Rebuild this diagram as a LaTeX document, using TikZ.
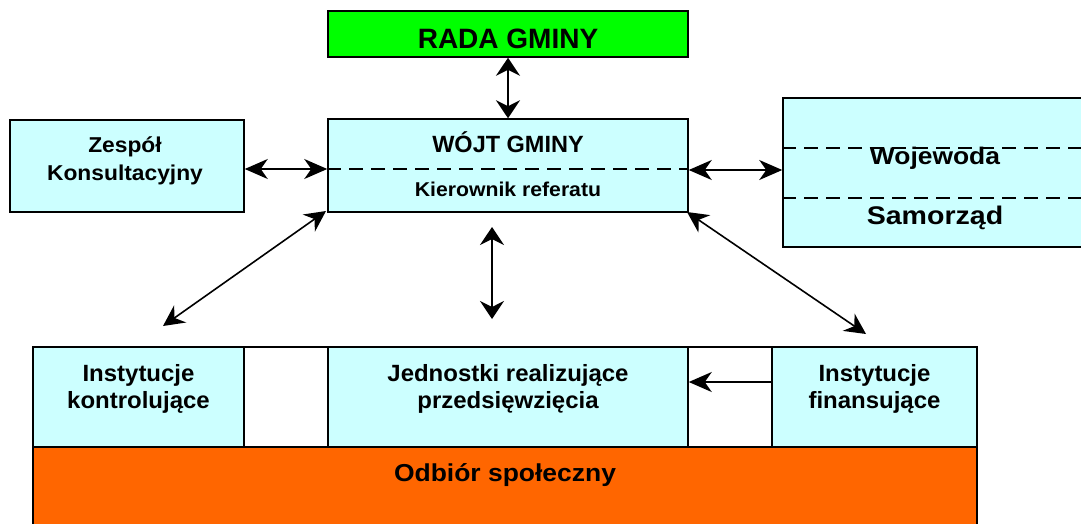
\documentclass[tikz,border=0pt]{standalone}
\usepackage{fontspec}
\setmainfont{Liberation Sans}
\usepackage{graphicx}
\usetikzlibrary{arrows.meta}

\definecolor{paleCyan}{HTML}{CCFFFF}
\definecolor{boardGreen}{HTML}{00FF00}
\definecolor{receiptOrange}{HTML}{FF6600}

% horizontally stretched text
\newcommand{\stretchx}[2]{\scalebox{#1}[1]{#2}}
\newcommand{\fsz}[1]{\bfseries\fontsize{#1}{#1}\selectfont}

\begin{document}
\begin{tikzpicture}[x=1pt,y=-1pt,
  box/.style={draw=black, line width=1.5pt, fill=paleCyan, inner sep=0pt},
  lbl/.style={anchor=base, inner sep=0pt, text=black},
  link/.style={line width=1.6pt, draw=black},
  htip/.style={{Stealth[length=23pt,width=20pt,inset=7pt]}-{Stealth[length=23pt,width=20pt,inset=7pt]}},
  vtip/.style={{Stealth[length=18pt,width=24pt,inset=6pt]}-{Stealth[length=18pt,width=24pt,inset=6pt]}},
  dtip/.style={{Stealth[length=21pt,width=21pt,inset=7pt]}-{Stealth[length=21pt,width=21pt,inset=7pt]}},
  onetip/.style={-{Stealth[length=23pt,width=20pt,inset=7pt]}},
  divider/.style={line width=1.5pt, dash pattern=on 14pt off 8pt}
]
\clip (0,0) rectangle (1081,523);
\fill[white] (0,0) rectangle (1081,523);

% --- top level ---
\node[box, fill=boardGreen, minimum width=360pt, minimum height=46pt] (rada) at (508,34) {};
\node[lbl, font=\fsz{28}] (radaT) at (508,48) {RADA GMINY};

\node[box, minimum width=360pt, minimum height=93pt] (wojt) at (508,165.5) {};
\draw[divider] (wojt.west |- 0,169) -- (wojt.east |- 0,169);
\node[lbl, font=\fsz{23.5}] (wojtT) at (508,152) {WÓJT GMINY};
\node[lbl, font=\fsz{20}] (kierT) at (508,196) {\stretchx{1.06}{Kierownik referatu}};

\node[box, minimum width=234pt, minimum height=92pt] (zesp) at (127,166) {};
\node[lbl, font=\fsz{21.5}] (zespT1) at (125,152) {\stretchx{1.06}{Zespół}};
\node[lbl, font=\fsz{21.5}] (zespT2) at (125,180) {\stretchx{1.06}{Konsultacyjny}};

\node[box, minimum width=320pt, minimum height=149pt] (woj) at (943,172.5) {};
\draw[divider] (woj.west |- 0,148) -- (1081,148);
\draw[divider] (woj.west |- 0,198) -- (1081,198);
\node[lbl, font=\fsz{24}] (wojT) at (935,164) {\stretchx{1.1}{Wojewoda}};
\node[lbl, font=\fsz{25.5}] (samT) at (935,224) {\stretchx{1.12}{Samorząd}};

% --- executing level ---
\node[box, fill=white, minimum width=944pt, minimum height=100pt] (strip) at (505,397) {};
\node[box, minimum width=211pt, minimum height=100pt] (kontr) at (138.5,397) {};
\node[box, minimum width=360pt, minimum height=100pt] (jedn) at (508,397) {};
\node[box, minimum width=205pt, minimum height=100pt] (finan) at (874.5,397) {};
\node[box, fill=receiptOrange, minimum width=944pt, minimum height=100pt] (odbior) at (505,497) {};

\node[lbl, font=\fsz{23.5}] (kontrT1) at (138.5,381) {\stretchx{1.02}{Instytucje}};
\node[lbl, font=\fsz{23.5}] (kontrT2) at (138.5,408) {\stretchx{1.02}{kontrolujące}};
\node[lbl, font=\fsz{23.5}] (jednT1) at (508,381) {\stretchx{1.02}{Jednostki realizujące}};
\node[lbl, font=\fsz{23.5}] (jednT2) at (508,408) {\stretchx{1.02}{przedsięwzięcia}};
\node[lbl, font=\fsz{23.5}] (finanT1) at (874.5,381) {\stretchx{1.02}{Instytucje}};
\node[lbl, font=\fsz{23.5}] (finanT2) at (874.5,408) {\stretchx{1.02}{finansujące}};
\node[lbl, font=\fsz{24.5}] (odbiorT) at (505,481) {\stretchx{1.08}{Odbiór społeczny}};

% --- connectors ---
\draw[link, vtip] (rada.south) -- (wojt.north);
\draw[link, htip] (zesp.east |- 0,169) -- (wojt.west |- 0,169);
\draw[link, htip] (wojt.east |- 0,170) -- (woj.west |- 0,170);

\coordinate (dl1) at (326,211);
\coordinate (dl2) at (163,326);
\coordinate (dr1) at (687,212);
\coordinate (dr2) at (866,334);
\coordinate (dm1) at (492,227);
\coordinate (dm2) at (492,319);
\draw[link, dtip] (dl1) -- (dl2);
\draw[link, dtip] (dr1) -- (dr2);
\draw[link, vtip] (dm1) -- (dm2);

\draw[link, onetip] (finan.west |- 0,382) -- (jedn.east |- 0,382);
\end{tikzpicture}
\end{document}
